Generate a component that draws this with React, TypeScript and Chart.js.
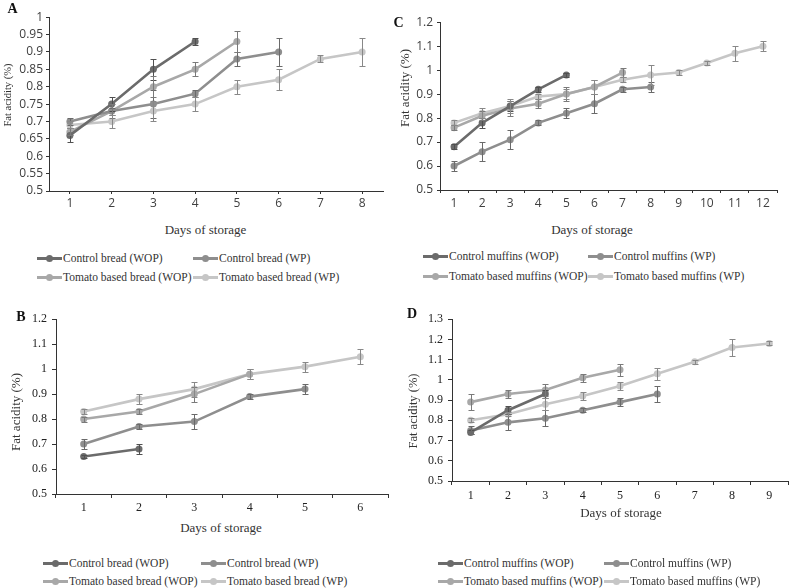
import React, { useEffect, useRef } from 'react';
import { Chart, registerables } from 'chart.js';

Chart.register(...registerables);

// ---------- DATA ----------
const daysA = ['1', '2', '3', '4', '5', '6', '7', '8'];
const daysB = ['1', '2', '3', '4', '5', '6'];
const daysC = ['1', '2', '3', '4', '5', '6', '7', '8', '9', '10', '11', '12'];
const daysD = ['1', '2', '3', '4', '5', '6', '7', '8', '9'];

const breadNames = ['Control bread (WOP)', 'Control bread (WP)', 'Tomato based bread (WOP)', 'Tomato based bread (WP)'];
const muffinNames = ['Control muffins (WOP)', 'Control muffins (WP)', 'Tomato based muffins (WOP)', 'Tomato based muffins (WP)'];

// Panel A – bread
const ctrlWopA = [0.66, 0.75, 0.85, 0.93];
const ctrlWopAErr = [0.02, 0.02, 0.03, 0.01];
const ctrlWpA = [0.70, 0.73, 0.75, 0.78, 0.88, 0.90];
const ctrlWpAErr = [0.01, 0.01, 0.04, 0.01, 0.02, 0.04];
const tomWopA = [0.67, 0.73, 0.80, 0.85, 0.93];
const tomWopAErr = [0.01, 0.02, 0.03, 0.02, 0.03];
const tomWpA = [0.69, 0.70, 0.73, 0.75, 0.80, 0.82, 0.88, 0.90];
const tomWpAErr = [0.01, 0.02, 0.03, 0.02, 0.02, 0.03, 0.01, 0.04];

// Panel B – bread
const ctrlWopB = [0.65, 0.68];
const ctrlWopBErr = [0.005, 0.02];
const ctrlWpB = [0.70, 0.77, 0.79, 0.89, 0.92];
const ctrlWpBErr = [0.02, 0.01, 0.03, 0.01, 0.02];
const tomWopB = [0.80, 0.83, 0.90, 0.98];
const tomWopBErr = [0.01, 0.01, 0.03, 0.02];
const tomWpB = [0.83, 0.88, 0.92, 0.98, 1.01, 1.05];
const tomWpBErr = [0.01, 0.02, 0.03, 0.02, 0.02, 0.03];

// Panel C – muffins
const ctrlWopC = [0.68, 0.78, 0.85, 0.92, 0.98];
const ctrlWopCErr = [0.01, 0.02, 0.02, 0.01, 0.01];
const ctrlWpC = [0.60, 0.66, 0.71, 0.78, 0.82, 0.86, 0.92, 0.93];
const ctrlWpCErr = [0.02, 0.04, 0.04, 0.01, 0.02, 0.04, 0.01, 0.02];
const tomWopC = [0.76, 0.81, 0.84, 0.86, 0.90, 0.93, 0.99];
const tomWopCErr = [0.01, 0.02, 0.03, 0.02, 0.03, 0.03, 0.02];
const tomWpC = [0.78, 0.82, 0.85, 0.89, 0.90, 0.93, 0.96, 0.98, 0.99, 1.03, 1.07, 1.10];
const tomWpCErr = [0.01, 0.02, 0.03, 0.01, 0.02, 0.03, 0.01, 0.04, 0.01, 0.01, 0.03, 0.02];

// Panel D – muffins
const ctrlWopD = [0.74, 0.85, 0.93];
const ctrlWopDErr = [0.01, 0.02, 0.02];
const ctrlWpD = [0.75, 0.79, 0.81, 0.85, 0.89, 0.93];
const ctrlWpDErr = [0.02, 0.04, 0.04, 0.01, 0.02, 0.04];
const tomWopD = [0.89, 0.93, 0.95, 1.01, 1.05];
const tomWopDErr = [0.04, 0.02, 0.03, 0.02, 0.03];
const tomWpD = [0.80, 0.83, 0.88, 0.92, 0.97, 1.03, 1.09, 1.16, 1.18];
const tomWpDErr = [0.01, 0.01, 0.03, 0.02, 0.02, 0.03, 0.01, 0.04, 0.01];

// ---------- STYLE ----------
const seriesColors = ['#6b6b6b', '#8e8e8e', '#a8a8a8', '#c6c6c6'];
const errColors = ['#505050', '#6a6a6a', '#7a7a7a', '#888888'];
const SERIF = '"Liberation Serif", "Times New Roman", serif';
const SANS = '"Open Sans", "Liberation Sans", sans-serif';

const errorBarPlugin = {
  id: 'errorBars',
  afterDatasetsDraw(chart: any) {
    const { ctx } = chart;
    const x = chart.scales.x;
    const y = chart.scales.y;
    ctx.save();
    chart.data.datasets.forEach((ds: any) => {
      const errs: number[] = ds.errors;
      if (!errs) return;
      ctx.strokeStyle = ds.errorColor;
      ctx.lineWidth = 1;
      ds.data.forEach((v: number | null, i: number) => {
        if (v == null || !errs[i]) return;
        const px = Math.round(x.getPixelForValue(i)) + 0.5;
        const yt = Math.round(y.getPixelForValue(v + errs[i])) + 0.5;
        const yb = Math.round(y.getPixelForValue(v - errs[i])) + 0.5;
        ctx.beginPath();
        ctx.moveTo(px, yt);
        ctx.lineTo(px, yb);
        ctx.moveTo(px - 3, yt);
        ctx.lineTo(px + 3, yt);
        ctx.moveTo(px - 3, yb);
        ctx.lineTo(px + 3, yb);
        ctx.stroke();
      });
    });
    ctx.restore();
  },
};

type PanelCfg = {
  letter: string;
  letterPos: [number, number];
  labels: string[];
  names: string[];
  values: number[][];
  errors: number[][];
  yMin: number;
  yMax: number;
  yStep: number;
  plot: { left: number; top: number; right: number; bottom: number };
  tickFont: { family: string; size: number };
  tickColor: string;
  xTick: [number, number]; // tickLength, padding
  yTick: [number, number];
  xGridOffset: boolean;
  xTitlePos: [number, number];
  yTitlePos: [number, number];
  yTitleSize: number;
  legendRows: [number, number];
  legendCols: [number, number];
};

const panels: PanelCfg[] = [
  {
    letter: 'A', letterPos: [12.5, 9], labels: daysA, names: breadNames,
    values: [ctrlWopA, ctrlWpA, tomWopA, tomWpA], errors: [ctrlWopAErr, ctrlWpAErr, tomWopAErr, tomWpAErr],
    yMin: 0.5, yMax: 1, yStep: 0.05,
    plot: { left: 49, top: 17, right: 383, bottom: 191 },
    tickFont: { family: SANS, size: 12 }, tickColor: '#404040',
    xTick: [3, 2], yTick: [3, 3], xGridOffset: false,
    xTitlePos: [205.5, 229], yTitlePos: [8, 95], yTitleSize: 10.5,
    legendRows: [258, 277], legendCols: [37, 193],
  },
  {
    letter: 'C', letterPos: [398.5, 22.5], labels: daysC, names: muffinNames,
    values: [ctrlWopC, ctrlWpC, tomWopC, tomWpC], errors: [ctrlWopCErr, ctrlWpCErr, tomWopCErr, tomWpCErr],
    yMin: 0.5, yMax: 1.2, yStep: 0.1,
    plot: { left: 440, top: 21, right: 777, bottom: 190 },
    tickFont: { family: SANS, size: 12 }, tickColor: '#404040',
    xTick: [3, 3], yTick: [3, 4], xGridOffset: true,
    xTitlePos: [592, 229], yTitlePos: [404, 88], yTitleSize: 13,
    legendRows: [256, 276], legendCols: [423, 588],
  },
  {
    letter: 'B', letterPos: [21, 317], labels: daysB, names: breadNames,
    values: [ctrlWopB, ctrlWpB, tomWopB, tomWpB], errors: [ctrlWopBErr, ctrlWpBErr, tomWopBErr, tomWpBErr],
    yMin: 0.5, yMax: 1.2, yStep: 0.1,
    plot: { left: 56, top: 317, right: 388, bottom: 494 },
    tickFont: { family: SERIF, size: 12 }, tickColor: '#222222',
    xTick: [4, 3], yTick: [4, 5], xGridOffset: true,
    xTitlePos: [221, 527], yTitlePos: [15, 412], yTitleSize: 13,
    legendRows: [563, 581], legendCols: [43, 201],
  },
  {
    letter: 'D', letterPos: [412, 314], labels: daysD, names: muffinNames,
    values: [ctrlWopD, ctrlWpD, tomWopD, tomWpD], errors: [ctrlWopDErr, ctrlWpDErr, tomWopDErr, tomWpDErr],
    yMin: 0.5, yMax: 1.3, yStep: 0.1,
    plot: { left: 452, top: 317, right: 788, bottom: 481 },
    tickFont: { family: SERIF, size: 12 }, tickColor: '#222222',
    xTick: [4, 4], yTick: [4, 5], xGridOffset: true,
    xTitlePos: [621, 512], yTitlePos: [413, 411], yTitleSize: 12.5,
    legendRows: [563, 581], legendCols: [438, 604],
  },
];

const YW = 48;
const PAD_TOP = 10;
const PAD_RIGHT = 8;
const XH = 24;
const AXIS_COLOR = '#333333';

function Panel({ cfg }: { cfg: PanelCfg }) {
  const ref = useRef<HTMLCanvasElement | null>(null);
  const cLeft = cfg.plot.left - YW;
  const cTop = cfg.plot.top - PAD_TOP;
  const cW = cfg.plot.right + PAD_RIGHT - cLeft;
  const cH = cfg.plot.bottom + XH - cTop;

  useEffect(() => {
    if (!ref.current) return;
    const chart = new Chart(ref.current, {
      type: 'line',
      data: {
        labels: cfg.labels,
        datasets: cfg.values.map((vals, i) => ({
          label: cfg.names[i],
          data: vals,
          borderColor: seriesColors[i],
          backgroundColor: seriesColors[i],
          pointBackgroundColor: seriesColors[i],
          pointBorderColor: seriesColors[i],
          borderWidth: 2.6,
          pointRadius: 3.5,
          pointBorderWidth: 0,
          tension: 0,
          fill: false,
          errors: cfg.errors[i],
          errorColor: errColors[i],
        })) as any,
      },
      options: {
        responsive: false,
        animation: false,
        events: [],
        layout: { padding: { top: PAD_TOP, right: PAD_RIGHT, left: 0, bottom: 0 } },
        plugins: { legend: { display: false }, tooltip: { enabled: false } },
        scales: {
          x: {
            type: 'category',
            offset: true,
            grid: {
              offset: cfg.xGridOffset,
              drawOnChartArea: false,
              tickLength: cfg.xTick[0],
              color: AXIS_COLOR,
            },
            border: { color: AXIS_COLOR, width: 1 },
            ticks: {
              font: cfg.tickFont,
              color: cfg.tickColor,
              padding: cfg.xTick[1],
              maxRotation: 0,
              autoSkip: false,
            },
            afterFit: (s: any) => { s.height = XH; },
          },
          y: {
            min: cfg.yMin,
            max: cfg.yMax,
            grid: { drawOnChartArea: false, tickLength: cfg.yTick[0], color: AXIS_COLOR },
            border: { color: AXIS_COLOR, width: 1 },
            ticks: {
              stepSize: cfg.yStep,
              autoSkip: false,
              maxTicksLimit: 20,
              font: cfg.tickFont,
              color: cfg.tickColor,
              padding: cfg.yTick[1],
              callback: (v: any) => String(parseFloat(Number(v).toFixed(2))),
            },
            afterFit: (s: any) => { s.width = YW; },
          },
        },
      },
      plugins: [errorBarPlugin],
    } as any);
    return () => chart.destroy();
  }, [cfg]);

  const centered = (x: number, y: number, extra: React.CSSProperties = {}): React.CSSProperties => ({
    position: 'absolute',
    left: x,
    top: y,
    whiteSpace: 'nowrap',
    lineHeight: 1,
    ...extra,
  });

  return (
    <>
      <canvas
        ref={ref}
        width={cW}
        height={cH}
        style={{ position: 'absolute', left: cLeft, top: cTop, width: cW, height: cH }}
      />
      <div
        style={centered(cfg.letterPos[0], cfg.letterPos[1], {
          fontFamily: SERIF, fontWeight: 'bold', fontSize: 14, color: '#111',
          transform: 'translate(-50%, -50%)',
        })}
      >
        {cfg.letter}
      </div>
      <div
        style={centered(cfg.xTitlePos[0], cfg.xTitlePos[1], {
          fontFamily: SERIF, fontSize: 13, color: '#333',
          transform: 'translate(-50%, -50%)',
        })}
      >
        Days of storage
      </div>
      <div
        style={centered(cfg.yTitlePos[0], cfg.yTitlePos[1], {
          fontFamily: SERIF, fontSize: cfg.yTitleSize, color: '#333',
          transform: 'translate(-50%, -50%) rotate(-90deg)',
        })}
      >
        Fat acidity (%)
      </div>
      {cfg.names.map((name, i) => {
        const row = cfg.legendRows[Math.floor(i / 2)];
        const col = cfg.legendCols[i % 2];
        return (
          <div
            key={name}
            style={{
              position: 'absolute', left: col, top: row - 7, height: 14,
              display: 'flex', alignItems: 'center', whiteSpace: 'nowrap',
              fontFamily: SERIF, fontSize: 11.5, color: '#333', lineHeight: '14px',
            }}
          >
            <span style={{ position: 'relative', display: 'inline-block', width: 25, height: 14, marginRight: 1 }}>
              <span style={{ position: 'absolute', left: 0, right: 0, top: 5.5, height: 3, background: seriesColors[i] }} />
              <span style={{ position: 'absolute', left: 9, top: 3.5, width: 7, height: 7, borderRadius: '50%', background: seriesColors[i] }} />
            </span>
            <span>{name}</span>
          </div>
        );
      })}
    </>
  );
}

export default function App() {
  return (
    <div style={{ position: 'fixed', left: 0, top: 0, width: 793, height: 588, background: '#ffffff', overflow: 'hidden' }}>
      {panels.map((p) => (
        <Panel key={p.letter} cfg={p} />
      ))}
    </div>
  );
}
